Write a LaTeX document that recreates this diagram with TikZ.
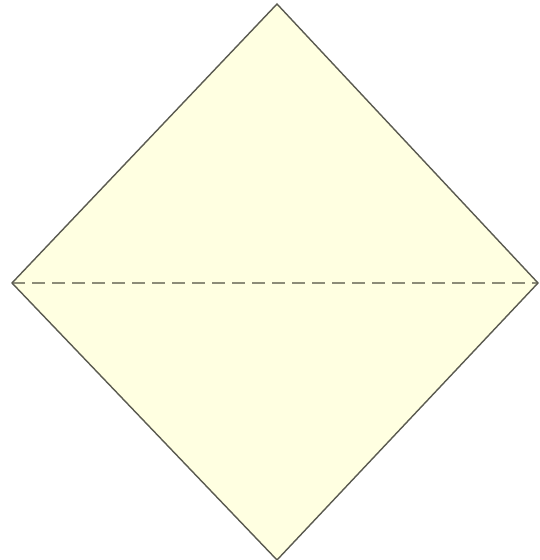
\documentclass[tikz,border=0pt]{standalone}
\usepackage{tikz}
\definecolor{papercol}{RGB}{255,255,225}
\definecolor{edgecol}{RGB}{90,90,80}
\definecolor{foldcol}{RGB}{140,140,120}

\begin{document}
\begin{tikzpicture}[x=1pt,y=1pt,
  edge/.style={draw=edgecol,line width=1.4pt,line join=miter},
  fold/.style={foldcol,line width=1.3pt,dash pattern=on 13pt off 7pt}]
  \useasboundingbox (0,0) rectangle (540,560);
  % corners of the folded square
  \coordinate (top) at (277,556);
  \coordinate (lft) at (12,277);
  \coordinate (rgt) at (538,277);
  \coordinate (bot) at (277,0);
  \fill[papercol] (top)--(rgt)--(bot)--(lft)--cycle;
  \draw[fold] (lft)--(rgt);
  \draw[edge] (top)--(rgt)--(bot)--(lft)--cycle;
\end{tikzpicture}
\end{document}
